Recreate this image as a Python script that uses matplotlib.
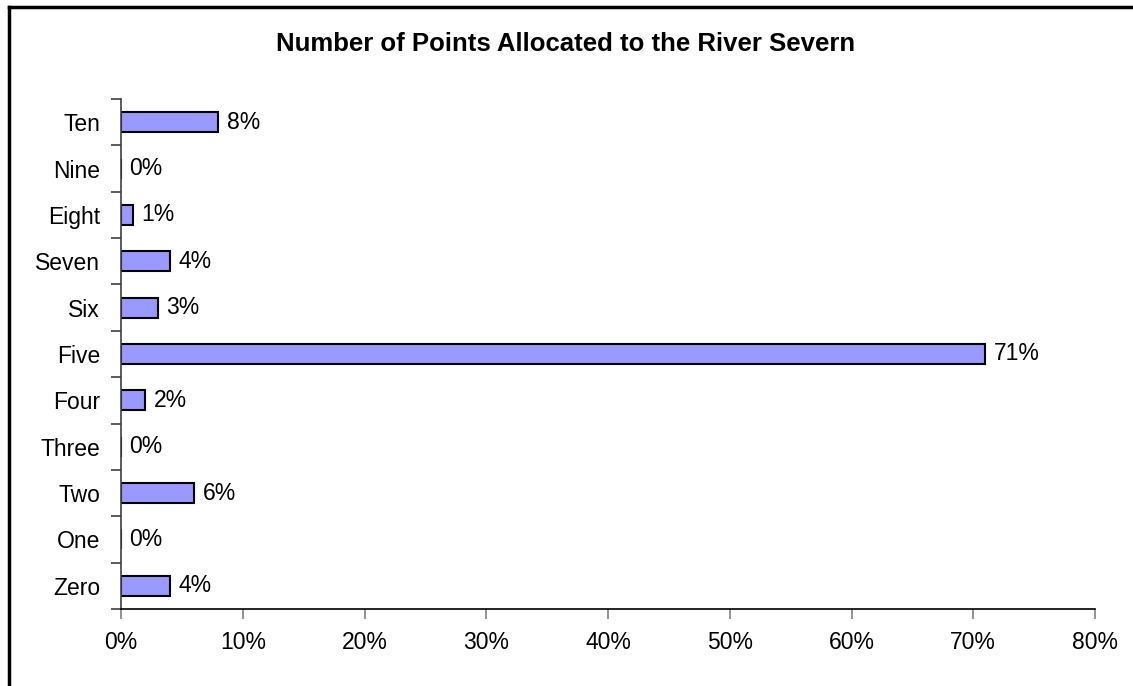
import matplotlib.pyplot as plt
from matplotlib.lines import Line2D

plt.rcParams['font.family'] = ['Liberation Sans', 'DejaVu Sans']

categories = ["Zero", "One", "Two", "Three", "Four", "Five",
              "Six", "Seven", "Eight", "Nine", "Ten"]
percent = [4, 0, 6, 0, 2, 71, 3, 4, 1, 0, 8]
x_ticks = [0, 10, 20, 30, 40, 50, 60, 70, 80]

fig = plt.figure(figsize=(11.33, 6.86), dpi=100)
ax = fig.add_axes([121 / 1133, 1 - 609 / 686, (1095 - 121) / 1133, (609 - 99) / 686])

pos = list(range(len(categories)))
ax.barh(pos, percent, height=0.43, color="#9999ff", edgecolor="black", linewidth=1.5)

for p, v in zip(pos, percent):
    ax.text(v + 0.7, p, f"{v}%", va="center", ha="left", fontsize=16.5)

ax.set_xlim(0, 80)
ax.set_ylim(-0.5, len(categories) - 0.5)
ax.set_xticks(x_ticks)
ax.set_xticklabels([f"{t}%" for t in x_ticks], fontsize=16.5)
ax.tick_params(axis="x", length=7, width=1.2, color="#808080", pad=9)

# category labels sit between boundary ticks
ax.set_yticks(pos)
ax.set_yticklabels(categories, fontsize=16.5)
ax.tick_params(axis="y", length=0, pad=15)
ax.set_yticks([p - 0.5 for p in pos] + [len(categories) - 0.5], minor=True)
ax.tick_params(axis="y", which="minor", length=7, width=1.2, color="#404040")

for s in ["top", "right"]:
    ax.spines[s].set_visible(False)
ax.spines["left"].set_color("#404040")
ax.spines["left"].set_linewidth(1.2)
ax.spines["bottom"].set_color("black")
ax.spines["bottom"].set_linewidth(1.2)

fig.text(566 / 1133, 1 - 44 / 686, "Number of Points Allocated to the River Severn",
         ha="center", va="center", fontsize=18.5, fontweight="bold")

# outer chart frame
fig.add_artist(Line2D([8.5 / 1133, 8.5 / 1133], [0, 1 - 6.5 / 686],
                      transform=fig.transFigure, color="black", linewidth=2.5))
fig.add_artist(Line2D([8.5 / 1133, 1], [1 - 6.5 / 686, 1 - 6.5 / 686],
                      transform=fig.transFigure, color="black", linewidth=2.5))

fig.savefig("out.png", dpi=100)
